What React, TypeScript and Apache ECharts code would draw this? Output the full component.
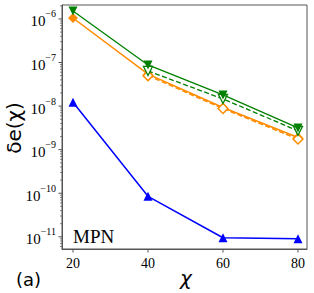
import React, { useEffect, useRef } from 'react';
import * as echarts from 'echarts';

const chiValues = [20, 40, 60, 80];
const blueSolid = [1.23e-8, 8.5e-11, 9.5e-12, 9.0e-12];
const orangeSolid = [1.05e-6, 5.4e-8, 9.3e-9, 1.9e-9];
const orangeDashed = [null, 5.0e-8, 8.8e-9, 1.75e-9];
const greenSolid = [1.52e-6, 8.8e-8, 1.8e-8, 3.16e-9];
const greenDashed = [null, 6.4e-8, 1.46e-8, 2.7e-9];
const xTicks = [20, 40, 60, 80];
const yTickExponents = [-11, -10, -9, -8, -7, -6];
const yMinorMultipliers = [2, 3, 4, 5, 6, 7, 8, 9];

const BLUE = '#0000ff';
const ORANGE = '#ff8c00';
const GREEN = '#008000';
const AXIS = '#555555';
const SERIF = 'Liberation Serif';
const SANS = 'DejaVu Sans';

const X_MIN = 17.07;
const X_MAX = 82.4;
const Y_MIN = Math.pow(10, -11.28);
const Y_MAX = Math.pow(10, -5.68);

function pairs(vals: (number | null)[]) {
  const out: [number, number][] = [];
  vals.forEach((v, i) => {
    if (v !== null) out.push([chiValues[i], v]);
  });
  return out;
}

export default function App() {
  const ref = useRef<HTMLDivElement>(null);
  useEffect(() => {
    if (!ref.current) return;
    const chart = echarts.init(ref.current, null, { renderer: 'svg' });
    const option: any = {
      animation: false,
      backgroundColor: '#ffffff',
      grid: {
        left: 62,
        right: 7,
        top: 5,
        bottom: 44,
        containLabel: false,
        outerBoundsMode: 'none',
        show: true,
        borderColor: AXIS,
        borderWidth: 1,
        backgroundColor: 'transparent',
      },
      xAxis: {
        type: 'value',
        min: X_MIN,
        max: X_MAX,
        minInterval: 20,
        maxInterval: 20,
        splitNumber: 3,
        splitLine: { show: false },
        axisLine: { show: true, lineStyle: { color: AXIS, width: 1 } },
        axisTick: { show: false },
        axisLabel: {
          showMinLabel: false,
          showMaxLabel: false,
          color: '#000',
          fontFamily: SERIF,
          fontSize: 14,
          margin: 7,
          formatter: (v: number) => (xTicks.indexOf(Math.round(v)) >= 0 && Math.abs(v - Math.round(v)) < 1e-6 ? String(Math.round(v)) : ''),
        },
      },
      yAxis: {
        type: 'log',
        logBase: 10,
        min: Y_MIN,
        max: Y_MAX,
        splitLine: { show: false },
        axisLine: { show: true, lineStyle: { color: AXIS, width: 1 } },
        axisTick: { show: false },
        axisLabel: {
          showMinLabel: false,
          showMaxLabel: false,
          color: '#000',
          margin: 6,
          formatter: (v: number) => {
            const l = Math.log10(v);
            const e = Math.round(l);
            if (Math.abs(l - e) > 0.01 || yTickExponents.indexOf(e) < 0) return '';
            return '{b|10}{s|−' + String(-e) + '}';
          },
          rich: {
            b: { fontFamily: SERIF, fontSize: 15, lineHeight: 20, color: '#000', verticalAlign: 'bottom' },
            s: { fontFamily: SERIF, fontSize: 10, lineHeight: 10, color: '#000', verticalAlign: 'top' },
          },
        },
      },
      series: [
        {
          type: 'line',
          data: pairs(blueSolid),
          lineStyle: { color: BLUE, width: 1.5 },
          itemStyle: { color: BLUE },
          symbol: 'triangle',
          symbolSize: 9,
          z: 2,
        },
        {
          type: 'line',
          data: pairs(orangeSolid),
          lineStyle: { color: ORANGE, width: 1.5 },
          itemStyle: { color: ORANGE },
          symbol: 'rect',
          symbolRotate: 45,
          symbolSize: 7,
          z: 3,
        },
        {
          type: 'line',
          data: pairs(orangeDashed),
          lineStyle: { color: ORANGE, width: 1.5, type: [5, 2.5] },
          itemStyle: { color: '#ffffff', borderColor: ORANGE, borderWidth: 1.5 },
          symbol: 'rect',
          symbolRotate: 45,
          symbolSize: 7,
          z: 4,
        },
        {
          type: 'line',
          data: pairs(greenDashed),
          lineStyle: { color: GREEN, width: 1.3, type: [5, 2.5] },
          itemStyle: { color: '#ffffff', borderColor: GREEN, borderWidth: 1.3 },
          symbol: 'triangle',
          symbolRotate: 180,
          symbolSize: 9,
          z: 5,
        },
        {
          type: 'line',
          data: pairs(greenSolid),
          lineStyle: { color: GREEN, width: 1.3 },
          itemStyle: { color: GREEN },
          symbol: 'triangle',
          symbolRotate: 180,
          symbolSize: 9,
          z: 6,
        },
      ],
    };
    chart.setOption(option);

    const tickEls: any[] = [];
    const xAxisY = chart.convertToPixel({ yAxisIndex: 0 }, Y_MIN) as number;
    const yAxisX = chart.convertToPixel({ xAxisIndex: 0 }, X_MIN) as number;
    xTicks.forEach((t) => {
      const px = chart.convertToPixel({ xAxisIndex: 0 }, t) as number;
      tickEls.push({
        type: 'line',
        shape: { x1: px, y1: xAxisY, x2: px, y2: xAxisY + 3.5 },
        style: { stroke: AXIS, lineWidth: 1 },
        silent: true,
      });
    });
    yTickExponents.forEach((e) => {
      const py = chart.convertToPixel({ yAxisIndex: 0 }, Math.pow(10, e)) as number;
      tickEls.push({
        type: 'line',
        shape: { x1: yAxisX - 3.5, y1: py, x2: yAxisX, y2: py },
        style: { stroke: AXIS, lineWidth: 1 },
        silent: true,
      });
    });
    for (let e = -12; e <= -6; e++) {
      yMinorMultipliers.forEach((m) => {
        const v = m * Math.pow(10, e);
        if (v < Y_MIN || v > Y_MAX) return;
        const py = chart.convertToPixel({ yAxisIndex: 0 }, v) as number;
        tickEls.push({
          type: 'line',
          shape: { x1: yAxisX - 2, y1: py, x2: yAxisX, y2: py },
          style: { stroke: AXIS, lineWidth: 0.7 },
          silent: true,
        });
      });
    }
    chart.setOption({
      graphic: [
        ...tickEls,
        {
          type: 'text',
          x: 14,
          y: 128,
          rotation: Math.PI / 2,
          style: { text: 'δe(χ)', fontFamily: SANS, fontSize: 20, fill: '#000', align: 'center', verticalAlign: 'middle' },
          silent: true,
        },
        {
          type: 'text',
          x: 186,
          y: 278,
          style: { text: 'χ', fontFamily: SANS, fontStyle: 'italic', fontSize: 20, fill: '#000', align: 'center', verticalAlign: 'middle' },
          silent: true,
        },
        {
          type: 'text',
          left: 73,
          top: 227,
          style: { text: 'MPN', fontFamily: SERIF, fontSize: 19, fill: '#000' },
          silent: true,
        },
        {
          type: 'text',
          left: 16,
          top: 270,
          style: { text: '(a)', fontFamily: SANS, fontSize: 18, fill: '#000' },
          silent: true,
        },
      ],
    });
    return () => chart.dispose();
  }, []);
  return <div ref={ref} style={{ position: 'absolute', left: 0, top: 0, width: 314, height: 293 }} />;
}
